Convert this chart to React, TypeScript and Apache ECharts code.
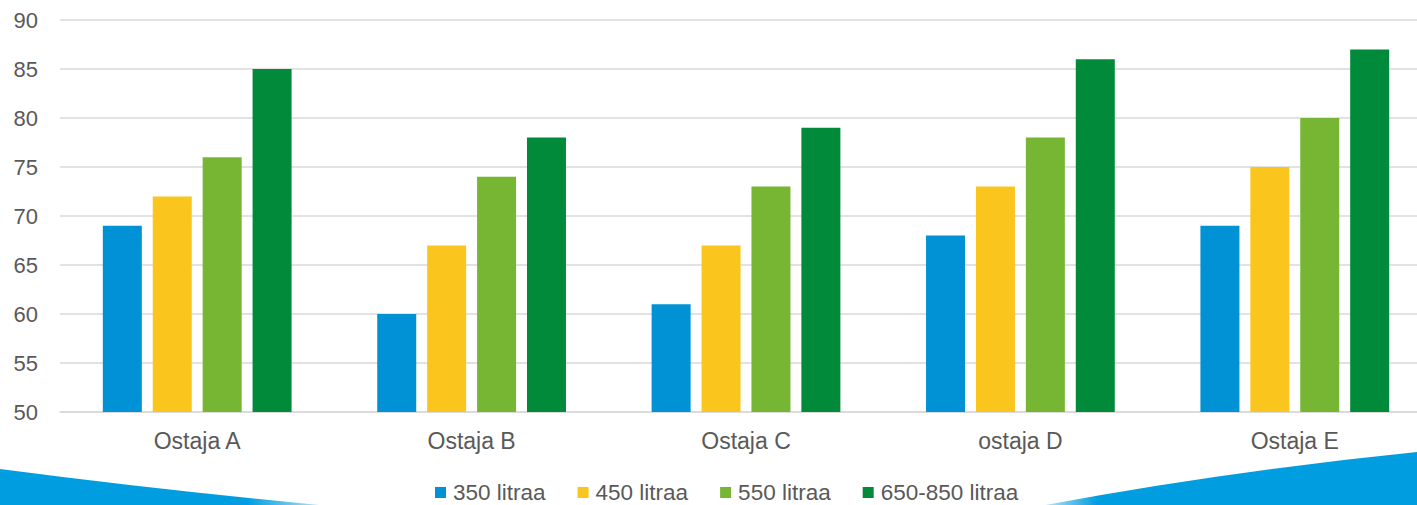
import React, { useEffect, useRef } from "react";
import * as echarts from "echarts";

const categories = ["Ostaja A", "Ostaja B", "Ostaja C", "ostaja D", "Ostaja E"];
const seriesNames = ["350 litraa", "450 litraa", "550 litraa", "650-850 litraa"];
const values350 = [69, 60, 61, 68, 69];
const values450 = [72, 67, 67, 73, 75];
const values550 = [76, 74, 73, 78, 80];
const values650 = [85, 78, 79, 86, 87];
const seriesColors = ["#0092D4", "#FAC51C", "#77B633", "#008A3A"];

echarts.graphic.registerShape(
  "waveLeft",
  echarts.graphic.extendPath("M0,469 Q160,490 330,506 L0,506 Z", {})
);
echarts.graphic.registerShape(
  "waveRight",
  echarts.graphic.extendPath("M1040,506 Q1220,472 1417,452 L1417,506 Z", {})
);

export default function App() {
  const ref = useRef<HTMLDivElement>(null);
  useEffect(() => {
    if (!ref.current) return;
    const chart = echarts.init(ref.current, undefined, { renderer: "svg" });
    const allValues = [values350, values450, values550, values650];
    chart.setOption({
      animation: false,
      textStyle: { fontFamily: "Liberation Sans, Arial, sans-serif" },
      grid: { left: 60, right: 0, top: 20, bottom: 93, containLabel: false },
      legend: {
        left: 435,
        top: 481,
        padding: 0,
        itemGap: 32,
        itemWidth: 11,
        itemHeight: 11,
        icon: "rect",
        data: seriesNames,
        textStyle: { color: "#595959", fontSize: 22.5, lineHeight: 22, padding: [0, 0, 0, 2] },
      },
      xAxis: {
        type: "category",
        data: categories,
        axisTick: { show: false },
        axisLine: { show: true, lineStyle: { color: "#D9D9D9", width: 1.5 } },
        axisLabel: { color: "#595959", fontSize: 23, margin: 17 },
      },
      yAxis: {
        type: "value",
        min: 50,
        max: 90,
        interval: 5,
        axisLine: { show: false },
        axisTick: { show: false },
        splitLine: { lineStyle: { color: "#D9D9D9", width: 1.5 } },
        axisLabel: { color: "#595959", fontSize: 22, margin: 22 },
      },
      graphic: [
        {
          type: "waveLeft",
          x: 0,
          y: 0,
          silent: true,
          style: {
            fill: new echarts.graphic.LinearGradient(0, 0, 1, 0, [
              { offset: 0, color: "#009EE0" },
              { offset: 0.75, color: "#009EE0" },
              { offset: 1, color: "#CDEBF8" },
            ]),
          },
        },
        {
          type: "waveRight",
          x: 0,
          y: 0,
          silent: true,
          style: {
            fill: new echarts.graphic.LinearGradient(0, 0, 1, 0, [
              { offset: 0, color: "#CDEBF8" },
              { offset: 0.15, color: "#009EE0" },
              { offset: 1, color: "#009EE0" },
            ]),
          },
        },
      ],
      series: seriesNames.map((name, i) => ({
        name,
        type: "bar",
        data: allValues[i],
        barWidth: 39,
        barGap: "28%",
        itemStyle: { color: seriesColors[i] },
      })),
    });
    return () => chart.dispose();
  }, []);
  return (
    <div
      style={{
        position: "absolute",
        left: 0,
        top: 0,
        width: 1417,
        height: 505,
        overflow: "hidden",
      }}
    >
      <div ref={ref} style={{ width: 1432, height: 505 }} />
    </div>
  );
}
